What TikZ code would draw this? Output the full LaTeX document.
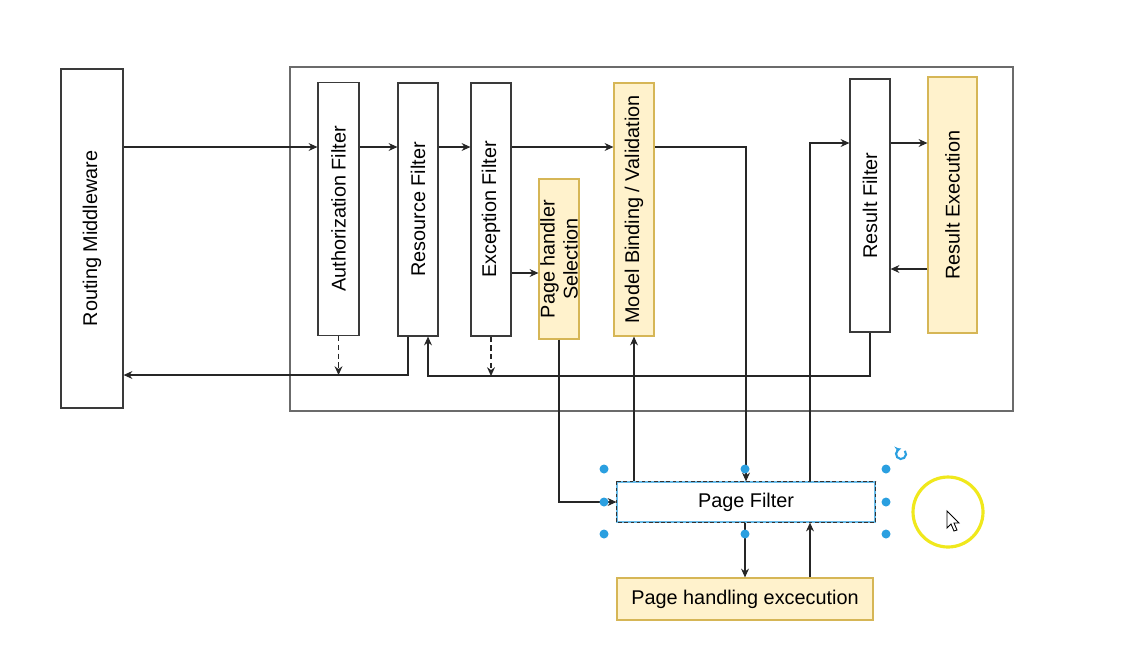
\documentclass[tikz,border=0pt]{standalone}
\usepackage{fontspec}
\setmainfont{Liberation Sans}
\usetikzlibrary{arrows.meta}

\definecolor{notefill}{HTML}{FFF2CC}
\definecolor{notedraw}{HTML}{D6B656}
\definecolor{boxdraw}{HTML}{3A3A3A}
\definecolor{framedraw}{HTML}{6B6B6B}
\definecolor{handleblue}{HTML}{2A9FE0}
\definecolor{ringyellow}{HTML}{F0E81C}

\tikzset{
  filter/.style={draw=boxdraw, line width=0.7pt, fill=white, inner sep=0pt,
    minimum width=0.8cm, minimum height=5.06cm, font=\fontsize{11.3}{13.5}\selectfont},
  stage/.style={filter, draw=notedraw, fill=notefill},
  flow/.style={-{Stealth[length=5pt,width=4.5pt]}, draw=black!85, line width=0.6pt},
  skip/.style={flow, dash pattern=on 3pt off 2pt},
  handle/.style={fill=handleblue},
}

\begin{document}
\begin{tikzpicture}[x=0.02cm, y=-0.02cm]
  \useasboundingbox[fill=white] (0,0) rectangle (1141,647);

  % request pipeline frame
  \node[draw=framedraw, line width=1pt, inner sep=0pt, minimum width=14.46cm, minimum height=6.88cm] (pipeline) at (651.5,239) {};

  \node[filter, minimum width=1.24cm, minimum height=6.78cm] (route) at (92,238.5) {\rotatebox{90}{Routing Middleware}};
  \node[filter, minimum width=0.82cm] (auth) at (338.5,209) {\rotatebox{90}{Authorization Filter}};
  \node[filter] (res) at (418,209.5) {\rotatebox{90}{Resource Filter}};
  \node[filter] (exc) at (491,209.5) {\rotatebox{90}{Exception Filter}};
  \node[stage, minimum height=3.2cm] (sel) at (559,259) {\rotatebox{90}{\parbox{3cm}{\centering\baselineskip=13pt Page handler\\Selection}}};
  \node[stage] (bind) at (634,209.5) {\rotatebox{90}{Model Binding / Validation}};
  \node[filter] (resf) at (870,205.5) {\rotatebox{90}{Result Filter}};
  \node[stage, minimum width=0.98cm, minimum height=5.12cm] (rexe) at (952.5,205) {\rotatebox{90}{Result Execution}};

  \node[filter, draw=handleblue!70, minimum width=5.16cm, minimum height=0.8cm] (pagef) at (746,502) {Page Filter};
  \draw[black!80, line width=0.5pt, dash pattern=on 2pt off 1.5pt] (pagef.north west) rectangle (pagef.south east);
  \node[stage, minimum width=5.12cm, minimum height=0.84cm] (handling) at (745,599) {Page handling excecution};

  % levels of the connectors
  \coordinate (main) at (0,147);
  \coordinate (side) at (0,273);
  \coordinate (up) at (810,143);
  \coordinate (back) at (0,269);
  \coordinate (ret) at (428,376);
  \coordinate (out) at (408,375);

  \draw[flow] (route.east |- main) -- (auth.west |- main);
  \draw[flow] (auth.east |- main) -- (res.west |- main);
  \draw[flow] (res.east |- main) -- (exc.west |- main);
  \draw[flow] (exc.east |- main) -- (bind.west |- main);
  \draw[flow] (bind.east |- main) -| (pagef.north);
  \draw[flow] (exc.east |- side) -- (sel.west |- side);
  \draw[flow] (sel.south) |- (pagef.west);
  \draw[flow] (bind.south |- pagef.north) -- (bind.south);
  \draw[flow] (pagef.north -| up) |- (resf.west |- up);
  \draw[flow] (resf.east |- up) -- (rexe.west |- up);
  \draw[flow] (rexe.west |- back) -- (resf.east |- back);
  \draw[flow] (resf.south) |- (ret) -- (res.south -| ret);
  \draw[flow] (res.south -| out) |- (route.east |- out);
  \draw[skip] (auth.south) -- (auth.south |- out);
  \draw[skip] (exc.south) -- (exc.south |- ret);
  \draw[flow] (pagef.south -| handling.north) -- (handling.north);
  \draw[flow] (handling.north -| up) -- (pagef.south -| up);

  % selection handles
  \foreach \p in {(604,469),(745,469),(886,469),(604,502),(886,502),(604,534),(745,534),(886,534)}
    \fill[handle] \p circle[radius=0.09cm];
  \draw[handleblue, line width=1.2pt, -{Stealth[length=3pt,width=4pt]}] (901,454) ++(40:0.1cm) arc[start angle=40, end angle=-260, radius=0.1cm];

  % pointer
  \draw[ringyellow, line width=1.8pt] (948,512) circle[radius=0.7cm];
  \draw[fill=white, line width=0.5pt, shift={(947,511)}] (0,0) -- (0,17) -- (4,13) -- (7,20) -- (10,19) -- (7,12) -- (12,12) -- cycle;
\end{tikzpicture}
\end{document}
